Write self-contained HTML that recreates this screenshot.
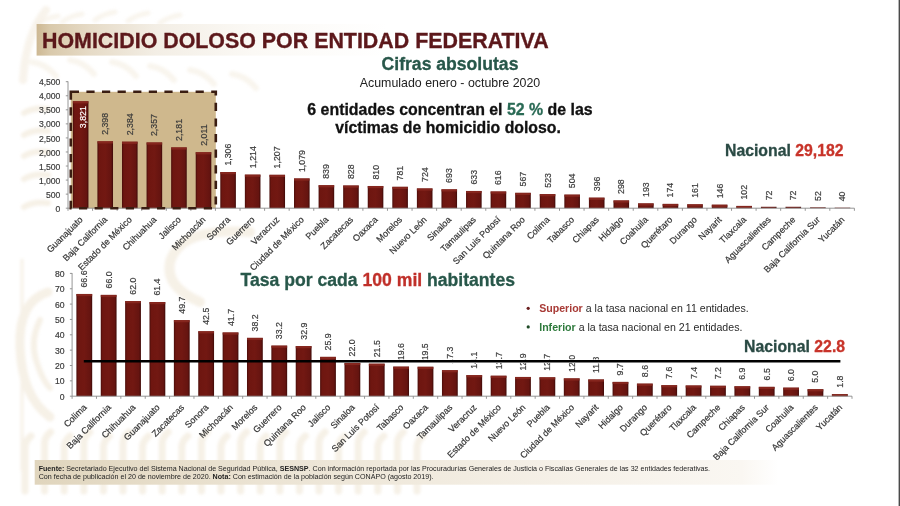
<!DOCTYPE html>
<html><head><meta charset="utf-8"><style>
html,body{margin:0;padding:0;background:#fff;width:900px;height:506px;overflow:hidden}
svg{display:block;font-family:"Liberation Sans",sans-serif;will-change:transform;filter:blur(0.35px)}
.ax{font-size:8.6px;fill:#3c3c3c;stroke:#3c3c3c;stroke-width:0.2px}
.vl{font-size:8.8px;stroke-width:0.2px}
.xl,.vl,.ax{}
.xl{font-size:9.0px;fill:#333;stroke:#333;stroke-width:0.2px}
</style></head><body>
<svg width="900" height="506" viewBox="0 0 900 506">
<defs>
<linearGradient id="bar" x1="0" x2="1" y1="0" y2="0">
<stop offset="0" stop-color="#4a0d0a"/><stop offset="0.12" stop-color="#6e1610"/><stop offset="0.5" stop-color="#721812"/><stop offset="0.88" stop-color="#651410"/><stop offset="1" stop-color="#3e0a08"/>
</linearGradient>
<linearGradient id="tg" x1="0" x2="1" y1="0" y2="0">
<stop offset="0" stop-color="#cdb893"/><stop offset="0.025" stop-color="#d9c9ab"/><stop offset="0.1" stop-color="#e6dbc7"/><stop offset="0.22" stop-color="#f3eee5"/><stop offset="0.4" stop-color="#fbf9f5"/><stop offset="0.65" stop-color="#ffffff"/>
</linearGradient>
<linearGradient id="fg" x1="0" x2="1" y1="0" y2="0">
<stop offset="0" stop-color="#e0d5bd"/><stop offset="0.3" stop-color="#ebe3d3"/><stop offset="0.7" stop-color="#f5f0e7"/><stop offset="0.95" stop-color="#faf7f2"/><stop offset="1" stop-color="#ffffff"/>
</linearGradient>
<filter id="wb" x="-20%" y="-20%" width="140%" height="140%"><feGaussianBlur stdDeviation="1.6"/></filter>
</defs>
<rect width="900" height="506" fill="#fff"/>
<g fill="none" stroke="#efe5d3" stroke-linecap="round" opacity="0.55" filter="url(#wb)"><path d="M25.0 491 V446.0 q1 -6 6 -10" stroke-width="7" /><path d="M44.6 491 V442.0 q1 -6 6 -10" stroke-width="7" /><path d="M64.2 491 V446.0 q1 -6 6 -10" stroke-width="7" /><path d="M83.8 491 V442.0 q1 -6 6 -10" stroke-width="7" /><path d="M103.4 491 V446.0 q1 -6 6 -10" stroke-width="7" /><path d="M123.0 491 V442.0 q1 -6 6 -10" stroke-width="7" /><path d="M142.6 491 V446.0 q1 -6 6 -10" stroke-width="7" /><path d="M162.2 491 V442.0 q1 -6 6 -10" stroke-width="7" /><path d="M181.8 491 V446.0 q1 -6 6 -10" stroke-width="7" /><path d="M201.4 491 V442.0 q1 -6 6 -10" stroke-width="7" /><path d="M221.0 491 V446.0 q1 -6 6 -10" stroke-width="7" /><path d="M240.6 491 V442.0 q1 -6 6 -10" stroke-width="7" /><path d="M260.2 491 V446.0 q1 -6 6 -10" stroke-width="7" /><path d="M279.8 491 V442.0 q1 -6 6 -10" stroke-width="7" /><path d="M299.4 491 V446.0 q1 -6 6 -10" stroke-width="7" /><path d="M319.0 491 V442.0 q1 -6 6 -10" stroke-width="7" /><path d="M338.6 491 V446.0 q1 -6 6 -10" stroke-width="7" /><path d="M358.2 491 V442.0 q1 -6 6 -10" stroke-width="7" /><path d="M377.8 491 V446.0 q1 -6 6 -10" stroke-width="7" /><path d="M397.4 491 V442.0 q1 -6 6 -10" stroke-width="7" /><path d="M417.0 491 V446.0 q1 -6 6 -10" stroke-width="7" /><path d="M24 113 q10 -6 24 -4" stroke-width="6"/><path d="M24 135 q10 -6 24 -4" stroke-width="6"/><path d="M24 156 q10 -6 24 -4" stroke-width="6"/><path d="M24 179 q10 -6 24 -4" stroke-width="6"/><path d="M24 207 q10 -6 24 -4" stroke-width="6"/><path d="M48 292 q-30 10 -28 55 q2 50 30 70" stroke-width="9"/><path d="M40 320 q-10 20 -4 40 q6 20 14 28" stroke-width="6"/><path d="M22 260 V470" stroke-width="3"/><path d="M38 24 q8 -6 20 -8" stroke-width="5" opacity="0.7"/><path d="M62 22 q8 -6 20 -8" stroke-width="5" opacity="0.7"/><path d="M95 20 q8 -6 20 -8" stroke-width="5" opacity="0.7"/><path d="M128 21 q8 -6 20 -8" stroke-width="5" opacity="0.7"/><path d="M160 23 q8 -6 20 -8" stroke-width="5" opacity="0.7"/><path d="M32 62 q14 2 24 14" stroke-width="6" opacity="0.7"/><path d="M70 60 q14 2 24 14" stroke-width="6" opacity="0.7"/><path d="M112 62 q14 2 24 14" stroke-width="6" opacity="0.7"/><path d="M150 66 q14 2 24 14" stroke-width="6" opacity="0.7"/><path d="M190 70 q14 2 24 14" stroke-width="6" opacity="0.7"/><path d="M232 74 q14 2 24 14" stroke-width="6" opacity="0.7"/><path d="M46 10 Q26 34 23 80" stroke-width="8" opacity="0.8"/><path d="M250 232 q-70 -5 -80 30 q-5 25 30 40" stroke-width="10"/></g>
<!-- title -->
<rect x="36.6" y="24" width="540" height="31.6" fill="url(#tg)"/>
<text x="42" y="48.3" font-weight="bold" font-size="21.4px" fill="#5c181b" stroke="#5c181b" stroke-width="0.35">HOMICIDIO DOLOSO POR ENTIDAD FEDERATIVA</text>
<text x="450" y="69.5" text-anchor="middle" font-weight="bold" font-size="17.6px" fill="#28574a" stroke="#28574a" stroke-width="0.3">Cifras absolutas</text>
<text x="450" y="86.5" text-anchor="middle" font-size="12.4px" fill="#222">Acumulado enero - octubre 2020</text>
<!-- highlight box -->
<rect x="70.8" y="91.8" width="145" height="116.4" fill="#cfb88d"/>
<rect x="72.84" y="101.20" width="15.60" height="107.00" fill="url(#bar)"/>
<rect x="72.84" y="101.20" width="15.60" height="2.20" fill="#8c2a22" opacity=".8"/>
<rect x="97.41" y="141.27" width="15.60" height="66.93" fill="url(#bar)"/>
<rect x="97.41" y="141.27" width="15.60" height="2.20" fill="#8c2a22" opacity=".8"/>
<rect x="121.99" y="141.67" width="15.60" height="66.53" fill="url(#bar)"/>
<rect x="121.99" y="141.67" width="15.60" height="2.20" fill="#8c2a22" opacity=".8"/>
<rect x="146.56" y="142.43" width="15.60" height="65.77" fill="url(#bar)"/>
<rect x="146.56" y="142.43" width="15.60" height="2.20" fill="#8c2a22" opacity=".8"/>
<rect x="171.14" y="147.38" width="15.60" height="60.82" fill="url(#bar)"/>
<rect x="171.14" y="147.38" width="15.60" height="2.20" fill="#8c2a22" opacity=".8"/>
<rect x="195.71" y="152.17" width="15.60" height="56.03" fill="url(#bar)"/>
<rect x="195.71" y="152.17" width="15.60" height="2.20" fill="#8c2a22" opacity=".8"/>
<rect x="220.29" y="172.02" width="15.60" height="36.18" fill="url(#bar)"/>
<rect x="220.29" y="172.02" width="15.60" height="2.20" fill="#8c2a22" opacity=".8"/>
<rect x="244.86" y="174.61" width="15.60" height="33.59" fill="url(#bar)"/>
<rect x="244.86" y="174.61" width="15.60" height="2.20" fill="#8c2a22" opacity=".8"/>
<rect x="269.44" y="174.81" width="15.60" height="33.39" fill="url(#bar)"/>
<rect x="269.44" y="174.81" width="15.60" height="2.20" fill="#8c2a22" opacity=".8"/>
<rect x="294.01" y="178.42" width="15.60" height="29.78" fill="url(#bar)"/>
<rect x="294.01" y="178.42" width="15.60" height="2.20" fill="#8c2a22" opacity=".8"/>
<rect x="318.59" y="185.17" width="15.60" height="23.03" fill="url(#bar)"/>
<rect x="318.59" y="185.17" width="15.60" height="2.20" fill="#8c2a22" opacity=".8"/>
<rect x="343.16" y="185.48" width="15.60" height="22.72" fill="url(#bar)"/>
<rect x="343.16" y="185.48" width="15.60" height="2.20" fill="#8c2a22" opacity=".8"/>
<rect x="367.74" y="185.99" width="15.60" height="22.21" fill="url(#bar)"/>
<rect x="367.74" y="185.99" width="15.60" height="2.20" fill="#8c2a22" opacity=".8"/>
<rect x="392.31" y="186.81" width="15.60" height="21.39" fill="url(#bar)"/>
<rect x="392.31" y="186.81" width="15.60" height="2.20" fill="#8c2a22" opacity=".8"/>
<rect x="416.89" y="188.41" width="15.60" height="19.79" fill="url(#bar)"/>
<rect x="416.89" y="188.41" width="15.60" height="2.20" fill="#8c2a22" opacity=".8"/>
<rect x="441.46" y="189.29" width="15.60" height="18.91" fill="url(#bar)"/>
<rect x="441.46" y="189.29" width="15.60" height="2.20" fill="#8c2a22" opacity=".8"/>
<rect x="466.04" y="190.97" width="15.60" height="17.23" fill="url(#bar)"/>
<rect x="466.04" y="190.97" width="15.60" height="2.20" fill="#8c2a22" opacity=".8"/>
<rect x="490.61" y="191.45" width="15.60" height="16.75" fill="url(#bar)"/>
<rect x="490.61" y="191.45" width="15.60" height="2.20" fill="#8c2a22" opacity=".8"/>
<rect x="515.19" y="192.83" width="15.60" height="15.37" fill="url(#bar)"/>
<rect x="515.19" y="192.83" width="15.60" height="2.20" fill="#8c2a22" opacity=".8"/>
<rect x="539.76" y="194.07" width="15.60" height="14.13" fill="url(#bar)"/>
<rect x="539.76" y="194.07" width="15.60" height="2.20" fill="#8c2a22" opacity=".8"/>
<rect x="564.34" y="194.61" width="15.60" height="13.59" fill="url(#bar)"/>
<rect x="564.34" y="194.61" width="15.60" height="2.20" fill="#8c2a22" opacity=".8"/>
<rect x="588.91" y="197.65" width="15.60" height="10.55" fill="url(#bar)"/>
<rect x="588.91" y="197.65" width="15.60" height="2.20" fill="#8c2a22" opacity=".8"/>
<rect x="613.49" y="200.41" width="15.60" height="7.79" fill="url(#bar)"/>
<rect x="613.49" y="200.41" width="15.60" height="2.20" fill="#8c2a22" opacity=".8"/>
<rect x="638.06" y="203.37" width="15.60" height="4.83" fill="url(#bar)"/>
<rect x="638.06" y="203.37" width="15.60" height="2.20" fill="#8c2a22" opacity=".8"/>
<rect x="662.64" y="203.90" width="15.60" height="4.30" fill="url(#bar)"/>
<rect x="662.64" y="203.90" width="15.60" height="2.20" fill="#8c2a22" opacity=".8"/>
<rect x="687.21" y="204.27" width="15.60" height="3.93" fill="url(#bar)"/>
<rect x="687.21" y="204.27" width="15.60" height="2.20" fill="#8c2a22" opacity=".8"/>
<rect x="711.79" y="204.69" width="15.60" height="3.51" fill="url(#bar)"/>
<rect x="711.79" y="204.69" width="15.60" height="2.20" fill="#8c2a22" opacity=".8"/>
<rect x="736.36" y="205.93" width="15.60" height="2.27" fill="url(#bar)"/>
<rect x="736.36" y="205.93" width="15.60" height="2.20" fill="#8c2a22" opacity=".8"/>
<rect x="760.94" y="206.77" width="15.60" height="1.43" fill="url(#bar)"/>
<rect x="785.51" y="206.77" width="15.60" height="1.43" fill="url(#bar)"/>
<rect x="810.09" y="207.34" width="15.60" height="0.86" fill="url(#bar)"/>
<rect x="834.66" y="207.67" width="15.60" height="0.53" fill="url(#bar)"/>
<path d="M68.00 81.40V208.20H854.40" stroke="#8a8a8a" stroke-width="0.9" fill="none"/>
<path d="M65.80 208.20H68.00" stroke="#8a8a8a" stroke-width="0.9"/>
<text x="60.40" y="211.80" text-anchor="end" class="ax">0</text>
<path d="M65.80 194.14H68.00" stroke="#8a8a8a" stroke-width="0.9"/>
<text x="60.40" y="197.74" text-anchor="end" class="ax">500</text>
<path d="M65.80 180.09H68.00" stroke="#8a8a8a" stroke-width="0.9"/>
<text x="60.40" y="183.69" text-anchor="end" class="ax">1,000</text>
<path d="M65.80 166.03H68.00" stroke="#8a8a8a" stroke-width="0.9"/>
<text x="60.40" y="169.63" text-anchor="end" class="ax">1,500</text>
<path d="M65.80 151.98H68.00" stroke="#8a8a8a" stroke-width="0.9"/>
<text x="60.40" y="155.58" text-anchor="end" class="ax">2,000</text>
<path d="M65.80 137.92H68.00" stroke="#8a8a8a" stroke-width="0.9"/>
<text x="60.40" y="141.52" text-anchor="end" class="ax">2,500</text>
<path d="M65.80 123.87H68.00" stroke="#8a8a8a" stroke-width="0.9"/>
<text x="60.40" y="127.47" text-anchor="end" class="ax">3,000</text>
<path d="M65.80 109.81H68.00" stroke="#8a8a8a" stroke-width="0.9"/>
<text x="60.40" y="113.41" text-anchor="end" class="ax">3,500</text>
<path d="M65.80 95.76H68.00" stroke="#8a8a8a" stroke-width="0.9"/>
<text x="60.40" y="99.36" text-anchor="end" class="ax">4,000</text>
<path d="M65.80 81.70H68.00" stroke="#8a8a8a" stroke-width="0.9"/>
<text x="60.40" y="85.30" text-anchor="end" class="ax">4,500</text>
<path d="M68.00 208.20V210.80" stroke="#8a8a8a" stroke-width="0.9"/>
<path d="M92.58 208.20V210.80" stroke="#8a8a8a" stroke-width="0.9"/>
<path d="M117.15 208.20V210.80" stroke="#8a8a8a" stroke-width="0.9"/>
<path d="M141.72 208.20V210.80" stroke="#8a8a8a" stroke-width="0.9"/>
<path d="M166.30 208.20V210.80" stroke="#8a8a8a" stroke-width="0.9"/>
<path d="M190.88 208.20V210.80" stroke="#8a8a8a" stroke-width="0.9"/>
<path d="M215.45 208.20V210.80" stroke="#8a8a8a" stroke-width="0.9"/>
<path d="M240.03 208.20V210.80" stroke="#8a8a8a" stroke-width="0.9"/>
<path d="M264.60 208.20V210.80" stroke="#8a8a8a" stroke-width="0.9"/>
<path d="M289.17 208.20V210.80" stroke="#8a8a8a" stroke-width="0.9"/>
<path d="M313.75 208.20V210.80" stroke="#8a8a8a" stroke-width="0.9"/>
<path d="M338.32 208.20V210.80" stroke="#8a8a8a" stroke-width="0.9"/>
<path d="M362.90 208.20V210.80" stroke="#8a8a8a" stroke-width="0.9"/>
<path d="M387.47 208.20V210.80" stroke="#8a8a8a" stroke-width="0.9"/>
<path d="M412.05 208.20V210.80" stroke="#8a8a8a" stroke-width="0.9"/>
<path d="M436.62 208.20V210.80" stroke="#8a8a8a" stroke-width="0.9"/>
<path d="M461.20 208.20V210.80" stroke="#8a8a8a" stroke-width="0.9"/>
<path d="M485.77 208.20V210.80" stroke="#8a8a8a" stroke-width="0.9"/>
<path d="M510.35 208.20V210.80" stroke="#8a8a8a" stroke-width="0.9"/>
<path d="M534.92 208.20V210.80" stroke="#8a8a8a" stroke-width="0.9"/>
<path d="M559.50 208.20V210.80" stroke="#8a8a8a" stroke-width="0.9"/>
<path d="M584.07 208.20V210.80" stroke="#8a8a8a" stroke-width="0.9"/>
<path d="M608.65 208.20V210.80" stroke="#8a8a8a" stroke-width="0.9"/>
<path d="M633.23 208.20V210.80" stroke="#8a8a8a" stroke-width="0.9"/>
<path d="M657.80 208.20V210.80" stroke="#8a8a8a" stroke-width="0.9"/>
<path d="M682.38 208.20V210.80" stroke="#8a8a8a" stroke-width="0.9"/>
<path d="M706.95 208.20V210.80" stroke="#8a8a8a" stroke-width="0.9"/>
<path d="M731.52 208.20V210.80" stroke="#8a8a8a" stroke-width="0.9"/>
<path d="M756.10 208.20V210.80" stroke="#8a8a8a" stroke-width="0.9"/>
<path d="M780.67 208.20V210.80" stroke="#8a8a8a" stroke-width="0.9"/>
<path d="M805.25 208.20V210.80" stroke="#8a8a8a" stroke-width="0.9"/>
<path d="M829.82 208.20V210.80" stroke="#8a8a8a" stroke-width="0.9"/>
<path d="M854.40 208.20V210.80" stroke="#8a8a8a" stroke-width="0.9"/>
<text transform="translate(85.84,128.20) rotate(-90)" class="vl" fill="#ffffff" stroke="#ffffff">3,821</text>
<text transform="translate(108.21,134.87) rotate(-90)" class="vl" fill="#3a3a3a" stroke="#3a3a3a">2,398</text>
<text transform="translate(132.79,135.27) rotate(-90)" class="vl" fill="#3a3a3a" stroke="#3a3a3a">2,384</text>
<text transform="translate(157.36,136.03) rotate(-90)" class="vl" fill="#3a3a3a" stroke="#3a3a3a">2,357</text>
<text transform="translate(181.94,140.98) rotate(-90)" class="vl" fill="#3a3a3a" stroke="#3a3a3a">2,181</text>
<text transform="translate(206.51,145.77) rotate(-90)" class="vl" fill="#3a3a3a" stroke="#3a3a3a">2,011</text>
<text transform="translate(231.09,165.62) rotate(-90)" class="vl" fill="#3a3a3a" stroke="#3a3a3a">1,306</text>
<text transform="translate(255.66,168.21) rotate(-90)" class="vl" fill="#3a3a3a" stroke="#3a3a3a">1,214</text>
<text transform="translate(280.24,168.41) rotate(-90)" class="vl" fill="#3a3a3a" stroke="#3a3a3a">1,207</text>
<text transform="translate(304.81,172.02) rotate(-90)" class="vl" fill="#3a3a3a" stroke="#3a3a3a">1,079</text>
<text transform="translate(329.39,178.77) rotate(-90)" class="vl" fill="#3a3a3a" stroke="#3a3a3a">839</text>
<text transform="translate(353.96,179.08) rotate(-90)" class="vl" fill="#3a3a3a" stroke="#3a3a3a">828</text>
<text transform="translate(378.54,179.59) rotate(-90)" class="vl" fill="#3a3a3a" stroke="#3a3a3a">810</text>
<text transform="translate(403.11,180.41) rotate(-90)" class="vl" fill="#3a3a3a" stroke="#3a3a3a">781</text>
<text transform="translate(427.69,182.01) rotate(-90)" class="vl" fill="#3a3a3a" stroke="#3a3a3a">724</text>
<text transform="translate(452.26,182.89) rotate(-90)" class="vl" fill="#3a3a3a" stroke="#3a3a3a">693</text>
<text transform="translate(476.84,184.57) rotate(-90)" class="vl" fill="#3a3a3a" stroke="#3a3a3a">633</text>
<text transform="translate(501.41,185.05) rotate(-90)" class="vl" fill="#3a3a3a" stroke="#3a3a3a">616</text>
<text transform="translate(525.99,186.43) rotate(-90)" class="vl" fill="#3a3a3a" stroke="#3a3a3a">567</text>
<text transform="translate(550.56,187.67) rotate(-90)" class="vl" fill="#3a3a3a" stroke="#3a3a3a">523</text>
<text transform="translate(575.14,188.21) rotate(-90)" class="vl" fill="#3a3a3a" stroke="#3a3a3a">504</text>
<text transform="translate(599.71,191.25) rotate(-90)" class="vl" fill="#3a3a3a" stroke="#3a3a3a">396</text>
<text transform="translate(624.29,194.01) rotate(-90)" class="vl" fill="#3a3a3a" stroke="#3a3a3a">298</text>
<text transform="translate(648.86,196.97) rotate(-90)" class="vl" fill="#3a3a3a" stroke="#3a3a3a">193</text>
<text transform="translate(673.44,197.50) rotate(-90)" class="vl" fill="#3a3a3a" stroke="#3a3a3a">174</text>
<text transform="translate(698.01,197.87) rotate(-90)" class="vl" fill="#3a3a3a" stroke="#3a3a3a">161</text>
<text transform="translate(722.59,198.29) rotate(-90)" class="vl" fill="#3a3a3a" stroke="#3a3a3a">146</text>
<text transform="translate(747.16,199.53) rotate(-90)" class="vl" fill="#3a3a3a" stroke="#3a3a3a">102</text>
<text transform="translate(771.74,200.37) rotate(-90)" class="vl" fill="#3a3a3a" stroke="#3a3a3a">72</text>
<text transform="translate(796.31,200.37) rotate(-90)" class="vl" fill="#3a3a3a" stroke="#3a3a3a">72</text>
<text transform="translate(820.89,200.94) rotate(-90)" class="vl" fill="#3a3a3a" stroke="#3a3a3a">52</text>
<text transform="translate(845.46,201.27) rotate(-90)" class="vl" fill="#3a3a3a" stroke="#3a3a3a">40</text>
<text transform="translate(83.29,220.30) rotate(-45)" text-anchor="end" class="xl">Guanajuato</text>
<text transform="translate(107.86,220.30) rotate(-45)" text-anchor="end" class="xl">Baja California</text>
<text transform="translate(132.44,220.30) rotate(-45)" text-anchor="end" class="xl">Estado de México</text>
<text transform="translate(157.01,220.30) rotate(-45)" text-anchor="end" class="xl">Chihuahua</text>
<text transform="translate(181.59,220.30) rotate(-45)" text-anchor="end" class="xl">Jalisco</text>
<text transform="translate(206.16,220.30) rotate(-45)" text-anchor="end" class="xl">Michoacán</text>
<text transform="translate(230.74,220.30) rotate(-45)" text-anchor="end" class="xl">Sonora</text>
<text transform="translate(255.31,220.30) rotate(-45)" text-anchor="end" class="xl">Guerrero</text>
<text transform="translate(279.89,220.30) rotate(-45)" text-anchor="end" class="xl">Veracruz</text>
<text transform="translate(304.46,220.30) rotate(-45)" text-anchor="end" class="xl">Ciudad de México</text>
<text transform="translate(329.04,220.30) rotate(-45)" text-anchor="end" class="xl">Puebla</text>
<text transform="translate(353.61,220.30) rotate(-45)" text-anchor="end" class="xl">Zacatecas</text>
<text transform="translate(378.19,220.30) rotate(-45)" text-anchor="end" class="xl">Oaxaca</text>
<text transform="translate(402.76,220.30) rotate(-45)" text-anchor="end" class="xl">Morelos</text>
<text transform="translate(427.34,220.30) rotate(-45)" text-anchor="end" class="xl">Nuevo León</text>
<text transform="translate(451.91,220.30) rotate(-45)" text-anchor="end" class="xl">Sinaloa</text>
<text transform="translate(476.49,220.30) rotate(-45)" text-anchor="end" class="xl">Tamaulipas</text>
<text transform="translate(501.06,220.30) rotate(-45)" text-anchor="end" class="xl">San Luis Potosí</text>
<text transform="translate(525.64,220.30) rotate(-45)" text-anchor="end" class="xl">Quintana Roo</text>
<text transform="translate(550.21,220.30) rotate(-45)" text-anchor="end" class="xl">Colima</text>
<text transform="translate(574.79,220.30) rotate(-45)" text-anchor="end" class="xl">Tabasco</text>
<text transform="translate(599.36,220.30) rotate(-45)" text-anchor="end" class="xl">Chiapas</text>
<text transform="translate(623.94,220.30) rotate(-45)" text-anchor="end" class="xl">Hidalgo</text>
<text transform="translate(648.51,220.30) rotate(-45)" text-anchor="end" class="xl">Coahuila</text>
<text transform="translate(673.09,220.30) rotate(-45)" text-anchor="end" class="xl">Querétaro</text>
<text transform="translate(697.66,220.30) rotate(-45)" text-anchor="end" class="xl">Durango</text>
<text transform="translate(722.24,220.30) rotate(-45)" text-anchor="end" class="xl">Nayarit</text>
<text transform="translate(746.81,220.30) rotate(-45)" text-anchor="end" class="xl">Tlaxcala</text>
<text transform="translate(771.39,220.30) rotate(-45)" text-anchor="end" class="xl">Aguascalientes</text>
<text transform="translate(795.96,220.30) rotate(-45)" text-anchor="end" class="xl">Campeche</text>
<text transform="translate(820.54,220.30) rotate(-45)" text-anchor="end" class="xl">Baja California Sur</text>
<text transform="translate(845.11,220.30) rotate(-45)" text-anchor="end" class="xl">Yucatán</text>
<path d="M70.8 91.8H215.8V208.2H70.8Z" fill="none" stroke="#3a1d12" stroke-width="2.6" stroke-dasharray="8.2 7.4"/>
<text x="450" y="114.6" text-anchor="middle" font-weight="bold" font-size="15.9px" fill="#111" stroke="#111" stroke-width="0.3">6 entidades concentran el <tspan fill="#2a6a55" stroke="#2a6a55">52 %</tspan> de las</text>
<text x="448" y="132.9" text-anchor="middle" font-weight="bold" font-size="15.8px" fill="#111" stroke="#111" stroke-width="0.3">víctimas de homicidio doloso.</text>
<text x="725" y="156" font-weight="bold" font-size="15.8px" fill="#2a4a44" stroke="#2a4a44" stroke-width="0.3">Nacional <tspan fill="#c8342a" stroke="#c8342a">29,182</tspan></text>
<!-- bottom -->
<text x="240.6" y="285.6" font-weight="bold" font-size="17.6px" fill="#28574a" stroke="#28574a" stroke-width="0.3">Tasa por cada <tspan fill="#c0302a" stroke="#c0302a">100 mil</tspan> habitantes</text>
<rect x="76.39" y="293.97" width="15.80" height="102.23" fill="url(#bar)"/>
<rect x="76.39" y="293.97" width="15.80" height="2.20" fill="#8c2a22" opacity=".8"/>
<rect x="100.76" y="294.90" width="15.80" height="101.30" fill="url(#bar)"/>
<rect x="100.76" y="294.90" width="15.80" height="2.20" fill="#8c2a22" opacity=".8"/>
<rect x="125.13" y="301.08" width="15.80" height="95.12" fill="url(#bar)"/>
<rect x="125.13" y="301.08" width="15.80" height="2.20" fill="#8c2a22" opacity=".8"/>
<rect x="149.50" y="302.01" width="15.80" height="94.19" fill="url(#bar)"/>
<rect x="149.50" y="302.01" width="15.80" height="2.20" fill="#8c2a22" opacity=".8"/>
<rect x="173.87" y="320.09" width="15.80" height="76.11" fill="url(#bar)"/>
<rect x="173.87" y="320.09" width="15.80" height="2.20" fill="#8c2a22" opacity=".8"/>
<rect x="198.25" y="331.22" width="15.80" height="64.98" fill="url(#bar)"/>
<rect x="198.25" y="331.22" width="15.80" height="2.20" fill="#8c2a22" opacity=".8"/>
<rect x="222.62" y="332.45" width="15.80" height="63.75" fill="url(#bar)"/>
<rect x="222.62" y="332.45" width="15.80" height="2.20" fill="#8c2a22" opacity=".8"/>
<rect x="246.99" y="337.86" width="15.80" height="58.34" fill="url(#bar)"/>
<rect x="246.99" y="337.86" width="15.80" height="2.20" fill="#8c2a22" opacity=".8"/>
<rect x="271.36" y="345.59" width="15.80" height="50.61" fill="url(#bar)"/>
<rect x="271.36" y="345.59" width="15.80" height="2.20" fill="#8c2a22" opacity=".8"/>
<rect x="295.73" y="346.05" width="15.80" height="50.15" fill="url(#bar)"/>
<rect x="295.73" y="346.05" width="15.80" height="2.20" fill="#8c2a22" opacity=".8"/>
<rect x="320.10" y="356.87" width="15.80" height="39.33" fill="url(#bar)"/>
<rect x="320.10" y="356.87" width="15.80" height="2.20" fill="#8c2a22" opacity=".8"/>
<rect x="344.48" y="362.90" width="15.80" height="33.30" fill="url(#bar)"/>
<rect x="344.48" y="362.90" width="15.80" height="2.20" fill="#8c2a22" opacity=".8"/>
<rect x="368.85" y="363.67" width="15.80" height="32.53" fill="url(#bar)"/>
<rect x="368.85" y="363.67" width="15.80" height="2.20" fill="#8c2a22" opacity=".8"/>
<rect x="393.22" y="366.61" width="15.80" height="29.59" fill="url(#bar)"/>
<rect x="393.22" y="366.61" width="15.80" height="2.20" fill="#8c2a22" opacity=".8"/>
<rect x="417.59" y="366.76" width="15.80" height="29.44" fill="url(#bar)"/>
<rect x="417.59" y="366.76" width="15.80" height="2.20" fill="#8c2a22" opacity=".8"/>
<rect x="441.96" y="370.16" width="15.80" height="26.04" fill="url(#bar)"/>
<rect x="441.96" y="370.16" width="15.80" height="2.20" fill="#8c2a22" opacity=".8"/>
<rect x="466.34" y="375.11" width="15.80" height="21.09" fill="url(#bar)"/>
<rect x="466.34" y="375.11" width="15.80" height="2.20" fill="#8c2a22" opacity=".8"/>
<rect x="490.71" y="375.73" width="15.80" height="20.47" fill="url(#bar)"/>
<rect x="490.71" y="375.73" width="15.80" height="2.20" fill="#8c2a22" opacity=".8"/>
<rect x="515.08" y="376.96" width="15.80" height="19.24" fill="url(#bar)"/>
<rect x="515.08" y="376.96" width="15.80" height="2.20" fill="#8c2a22" opacity=".8"/>
<rect x="539.45" y="377.27" width="15.80" height="18.93" fill="url(#bar)"/>
<rect x="539.45" y="377.27" width="15.80" height="2.20" fill="#8c2a22" opacity=".8"/>
<rect x="563.82" y="378.35" width="15.80" height="17.85" fill="url(#bar)"/>
<rect x="563.82" y="378.35" width="15.80" height="2.20" fill="#8c2a22" opacity=".8"/>
<rect x="588.20" y="379.44" width="15.80" height="16.76" fill="url(#bar)"/>
<rect x="588.20" y="379.44" width="15.80" height="2.20" fill="#8c2a22" opacity=".8"/>
<rect x="612.57" y="381.91" width="15.80" height="14.29" fill="url(#bar)"/>
<rect x="612.57" y="381.91" width="15.80" height="2.20" fill="#8c2a22" opacity=".8"/>
<rect x="636.94" y="383.61" width="15.80" height="12.59" fill="url(#bar)"/>
<rect x="636.94" y="383.61" width="15.80" height="2.20" fill="#8c2a22" opacity=".8"/>
<rect x="661.31" y="385.15" width="15.80" height="11.05" fill="url(#bar)"/>
<rect x="661.31" y="385.15" width="15.80" height="2.20" fill="#8c2a22" opacity=".8"/>
<rect x="685.68" y="385.46" width="15.80" height="10.74" fill="url(#bar)"/>
<rect x="685.68" y="385.46" width="15.80" height="2.20" fill="#8c2a22" opacity=".8"/>
<rect x="710.05" y="385.77" width="15.80" height="10.43" fill="url(#bar)"/>
<rect x="710.05" y="385.77" width="15.80" height="2.20" fill="#8c2a22" opacity=".8"/>
<rect x="734.43" y="386.24" width="15.80" height="9.96" fill="url(#bar)"/>
<rect x="734.43" y="386.24" width="15.80" height="2.20" fill="#8c2a22" opacity=".8"/>
<rect x="758.80" y="386.85" width="15.80" height="9.35" fill="url(#bar)"/>
<rect x="758.80" y="386.85" width="15.80" height="2.20" fill="#8c2a22" opacity=".8"/>
<rect x="783.17" y="387.63" width="15.80" height="8.57" fill="url(#bar)"/>
<rect x="783.17" y="387.63" width="15.80" height="2.20" fill="#8c2a22" opacity=".8"/>
<rect x="807.54" y="389.17" width="15.80" height="7.03" fill="url(#bar)"/>
<rect x="807.54" y="389.17" width="15.80" height="2.20" fill="#8c2a22" opacity=".8"/>
<rect x="831.91" y="394.12" width="15.80" height="2.08" fill="url(#bar)"/>
<rect x="831.91" y="394.12" width="15.80" height="2.08" fill="#8c2a22" opacity=".8"/>
<path d="M72.10 273.10V396.20H852.00" stroke="#8a8a8a" stroke-width="0.9" fill="none"/>
<path d="M69.90 396.20H72.10" stroke="#8a8a8a" stroke-width="0.9"/>
<text x="64.50" y="399.80" text-anchor="end" class="ax">0</text>
<path d="M69.90 380.85H72.10" stroke="#8a8a8a" stroke-width="0.9"/>
<text x="64.50" y="384.45" text-anchor="end" class="ax">10</text>
<path d="M69.90 365.50H72.10" stroke="#8a8a8a" stroke-width="0.9"/>
<text x="64.50" y="369.10" text-anchor="end" class="ax">20</text>
<path d="M69.90 350.15H72.10" stroke="#8a8a8a" stroke-width="0.9"/>
<text x="64.50" y="353.75" text-anchor="end" class="ax">30</text>
<path d="M69.90 334.80H72.10" stroke="#8a8a8a" stroke-width="0.9"/>
<text x="64.50" y="338.40" text-anchor="end" class="ax">40</text>
<path d="M69.90 319.45H72.10" stroke="#8a8a8a" stroke-width="0.9"/>
<text x="64.50" y="323.05" text-anchor="end" class="ax">50</text>
<path d="M69.90 304.10H72.10" stroke="#8a8a8a" stroke-width="0.9"/>
<text x="64.50" y="307.70" text-anchor="end" class="ax">60</text>
<path d="M69.90 288.75H72.10" stroke="#8a8a8a" stroke-width="0.9"/>
<text x="64.50" y="292.35" text-anchor="end" class="ax">70</text>
<path d="M69.90 273.40H72.10" stroke="#8a8a8a" stroke-width="0.9"/>
<text x="64.50" y="277.00" text-anchor="end" class="ax">80</text>
<path d="M72.10 396.20V398.80" stroke="#8a8a8a" stroke-width="0.9"/>
<path d="M96.47 396.20V398.80" stroke="#8a8a8a" stroke-width="0.9"/>
<path d="M120.84 396.20V398.80" stroke="#8a8a8a" stroke-width="0.9"/>
<path d="M145.22 396.20V398.80" stroke="#8a8a8a" stroke-width="0.9"/>
<path d="M169.59 396.20V398.80" stroke="#8a8a8a" stroke-width="0.9"/>
<path d="M193.96 396.20V398.80" stroke="#8a8a8a" stroke-width="0.9"/>
<path d="M218.33 396.20V398.80" stroke="#8a8a8a" stroke-width="0.9"/>
<path d="M242.70 396.20V398.80" stroke="#8a8a8a" stroke-width="0.9"/>
<path d="M267.07 396.20V398.80" stroke="#8a8a8a" stroke-width="0.9"/>
<path d="M291.45 396.20V398.80" stroke="#8a8a8a" stroke-width="0.9"/>
<path d="M315.82 396.20V398.80" stroke="#8a8a8a" stroke-width="0.9"/>
<path d="M340.19 396.20V398.80" stroke="#8a8a8a" stroke-width="0.9"/>
<path d="M364.56 396.20V398.80" stroke="#8a8a8a" stroke-width="0.9"/>
<path d="M388.93 396.20V398.80" stroke="#8a8a8a" stroke-width="0.9"/>
<path d="M413.31 396.20V398.80" stroke="#8a8a8a" stroke-width="0.9"/>
<path d="M437.68 396.20V398.80" stroke="#8a8a8a" stroke-width="0.9"/>
<path d="M462.05 396.20V398.80" stroke="#8a8a8a" stroke-width="0.9"/>
<path d="M486.42 396.20V398.80" stroke="#8a8a8a" stroke-width="0.9"/>
<path d="M510.79 396.20V398.80" stroke="#8a8a8a" stroke-width="0.9"/>
<path d="M535.17 396.20V398.80" stroke="#8a8a8a" stroke-width="0.9"/>
<path d="M559.54 396.20V398.80" stroke="#8a8a8a" stroke-width="0.9"/>
<path d="M583.91 396.20V398.80" stroke="#8a8a8a" stroke-width="0.9"/>
<path d="M608.28 396.20V398.80" stroke="#8a8a8a" stroke-width="0.9"/>
<path d="M632.65 396.20V398.80" stroke="#8a8a8a" stroke-width="0.9"/>
<path d="M657.02 396.20V398.80" stroke="#8a8a8a" stroke-width="0.9"/>
<path d="M681.40 396.20V398.80" stroke="#8a8a8a" stroke-width="0.9"/>
<path d="M705.77 396.20V398.80" stroke="#8a8a8a" stroke-width="0.9"/>
<path d="M730.14 396.20V398.80" stroke="#8a8a8a" stroke-width="0.9"/>
<path d="M754.51 396.20V398.80" stroke="#8a8a8a" stroke-width="0.9"/>
<path d="M778.88 396.20V398.80" stroke="#8a8a8a" stroke-width="0.9"/>
<path d="M803.26 396.20V398.80" stroke="#8a8a8a" stroke-width="0.9"/>
<path d="M827.63 396.20V398.80" stroke="#8a8a8a" stroke-width="0.9"/>
<path d="M852.00 396.20V398.80" stroke="#8a8a8a" stroke-width="0.9"/>
<text transform="translate(87.29,287.57) rotate(-90)" class="vl" fill="#3a3a3a" stroke="#3a3a3a">66.6</text>
<text transform="translate(111.66,288.50) rotate(-90)" class="vl" fill="#3a3a3a" stroke="#3a3a3a">66.0</text>
<text transform="translate(136.03,294.68) rotate(-90)" class="vl" fill="#3a3a3a" stroke="#3a3a3a">62.0</text>
<text transform="translate(160.40,295.61) rotate(-90)" class="vl" fill="#3a3a3a" stroke="#3a3a3a">61.4</text>
<text transform="translate(184.77,313.69) rotate(-90)" class="vl" fill="#3a3a3a" stroke="#3a3a3a">49.7</text>
<text transform="translate(209.15,324.82) rotate(-90)" class="vl" fill="#3a3a3a" stroke="#3a3a3a">42.5</text>
<text transform="translate(233.52,326.05) rotate(-90)" class="vl" fill="#3a3a3a" stroke="#3a3a3a">41.7</text>
<text transform="translate(257.89,331.46) rotate(-90)" class="vl" fill="#3a3a3a" stroke="#3a3a3a">38.2</text>
<text transform="translate(282.26,339.19) rotate(-90)" class="vl" fill="#3a3a3a" stroke="#3a3a3a">33.2</text>
<text transform="translate(306.63,339.65) rotate(-90)" class="vl" fill="#3a3a3a" stroke="#3a3a3a">32.9</text>
<text transform="translate(331.00,350.47) rotate(-90)" class="vl" fill="#3a3a3a" stroke="#3a3a3a">25.9</text>
<text transform="translate(355.38,356.50) rotate(-90)" class="vl" fill="#3a3a3a" stroke="#3a3a3a">22.0</text>
<text transform="translate(379.75,357.27) rotate(-90)" class="vl" fill="#3a3a3a" stroke="#3a3a3a">21.5</text>
<text transform="translate(404.12,360.21) rotate(-90)" class="vl" fill="#3a3a3a" stroke="#3a3a3a">19.6</text>
<text transform="translate(428.49,360.36) rotate(-90)" class="vl" fill="#3a3a3a" stroke="#3a3a3a">19.5</text>
<text transform="translate(452.86,363.76) rotate(-90)" class="vl" fill="#3a3a3a" stroke="#3a3a3a">17.3</text>
<text transform="translate(477.24,368.71) rotate(-90)" class="vl" fill="#3a3a3a" stroke="#3a3a3a">14.1</text>
<text transform="translate(501.61,369.33) rotate(-90)" class="vl" fill="#3a3a3a" stroke="#3a3a3a">13.7</text>
<text transform="translate(525.98,370.56) rotate(-90)" class="vl" fill="#3a3a3a" stroke="#3a3a3a">12.9</text>
<text transform="translate(550.35,370.87) rotate(-90)" class="vl" fill="#3a3a3a" stroke="#3a3a3a">12.7</text>
<text transform="translate(574.72,371.95) rotate(-90)" class="vl" fill="#3a3a3a" stroke="#3a3a3a">12.0</text>
<text transform="translate(599.10,373.04) rotate(-90)" class="vl" fill="#3a3a3a" stroke="#3a3a3a">11.3</text>
<text transform="translate(623.47,375.51) rotate(-90)" class="vl" fill="#3a3a3a" stroke="#3a3a3a">9.7</text>
<text transform="translate(647.84,377.21) rotate(-90)" class="vl" fill="#3a3a3a" stroke="#3a3a3a">8.6</text>
<text transform="translate(672.21,378.75) rotate(-90)" class="vl" fill="#3a3a3a" stroke="#3a3a3a">7.6</text>
<text transform="translate(696.58,379.06) rotate(-90)" class="vl" fill="#3a3a3a" stroke="#3a3a3a">7.4</text>
<text transform="translate(720.95,379.37) rotate(-90)" class="vl" fill="#3a3a3a" stroke="#3a3a3a">7.2</text>
<text transform="translate(745.33,379.84) rotate(-90)" class="vl" fill="#3a3a3a" stroke="#3a3a3a">6.9</text>
<text transform="translate(769.70,380.45) rotate(-90)" class="vl" fill="#3a3a3a" stroke="#3a3a3a">6.5</text>
<text transform="translate(794.07,381.23) rotate(-90)" class="vl" fill="#3a3a3a" stroke="#3a3a3a">6.0</text>
<text transform="translate(818.44,382.77) rotate(-90)" class="vl" fill="#3a3a3a" stroke="#3a3a3a">5.0</text>
<text transform="translate(842.81,387.72) rotate(-90)" class="vl" fill="#3a3a3a" stroke="#3a3a3a">1.8</text>
<text transform="translate(87.29,408.00) rotate(-45)" text-anchor="end" class="xl">Colima</text>
<text transform="translate(111.66,408.00) rotate(-45)" text-anchor="end" class="xl">Baja California</text>
<text transform="translate(136.03,408.00) rotate(-45)" text-anchor="end" class="xl">Chihuahua</text>
<text transform="translate(160.40,408.00) rotate(-45)" text-anchor="end" class="xl">Guanajuato</text>
<text transform="translate(184.77,408.00) rotate(-45)" text-anchor="end" class="xl">Zacatecas</text>
<text transform="translate(209.15,408.00) rotate(-45)" text-anchor="end" class="xl">Sonora</text>
<text transform="translate(233.52,408.00) rotate(-45)" text-anchor="end" class="xl">Michoacán</text>
<text transform="translate(257.89,408.00) rotate(-45)" text-anchor="end" class="xl">Morelos</text>
<text transform="translate(282.26,408.00) rotate(-45)" text-anchor="end" class="xl">Guerrero</text>
<text transform="translate(306.63,408.00) rotate(-45)" text-anchor="end" class="xl">Quintana Roo</text>
<text transform="translate(331.00,408.00) rotate(-45)" text-anchor="end" class="xl">Jalisco</text>
<text transform="translate(355.38,408.00) rotate(-45)" text-anchor="end" class="xl">Sinaloa</text>
<text transform="translate(379.75,408.00) rotate(-45)" text-anchor="end" class="xl">San Luis Potosí</text>
<text transform="translate(404.12,408.00) rotate(-45)" text-anchor="end" class="xl">Tabasco</text>
<text transform="translate(428.49,408.00) rotate(-45)" text-anchor="end" class="xl">Oaxaca</text>
<text transform="translate(452.86,408.00) rotate(-45)" text-anchor="end" class="xl">Tamaulipas</text>
<text transform="translate(477.24,408.00) rotate(-45)" text-anchor="end" class="xl">Veracruz</text>
<text transform="translate(501.61,408.00) rotate(-45)" text-anchor="end" class="xl">Estado de México</text>
<text transform="translate(525.98,408.00) rotate(-45)" text-anchor="end" class="xl">Nuevo León</text>
<text transform="translate(550.35,408.00) rotate(-45)" text-anchor="end" class="xl">Puebla</text>
<text transform="translate(574.72,408.00) rotate(-45)" text-anchor="end" class="xl">Ciudad de México</text>
<text transform="translate(599.10,408.00) rotate(-45)" text-anchor="end" class="xl">Nayarit</text>
<text transform="translate(623.47,408.00) rotate(-45)" text-anchor="end" class="xl">Hidalgo</text>
<text transform="translate(647.84,408.00) rotate(-45)" text-anchor="end" class="xl">Durango</text>
<text transform="translate(672.21,408.00) rotate(-45)" text-anchor="end" class="xl">Querétaro</text>
<text transform="translate(696.58,408.00) rotate(-45)" text-anchor="end" class="xl">Tlaxcala</text>
<text transform="translate(720.95,408.00) rotate(-45)" text-anchor="end" class="xl">Campeche</text>
<text transform="translate(745.33,408.00) rotate(-45)" text-anchor="end" class="xl">Chiapas</text>
<text transform="translate(769.70,408.00) rotate(-45)" text-anchor="end" class="xl">Baja California Sur</text>
<text transform="translate(794.07,408.00) rotate(-45)" text-anchor="end" class="xl">Coahuila</text>
<text transform="translate(818.44,408.00) rotate(-45)" text-anchor="end" class="xl">Aguascalientes</text>
<text transform="translate(842.81,408.00) rotate(-45)" text-anchor="end" class="xl">Yucatán</text>
<rect x="388.9" y="359.4" width="451.5" height="3.7" fill="#fff"/>
<path d="M83.8 361.2H840.4" stroke="#000" stroke-width="2.6"/>
<circle cx="528.2" cy="308.3" r="1.6" fill="#6a1e1e"/>
<text x="539.2" y="311.7" font-size="10.6px" fill="#2a2a2a"><tspan font-weight="bold" fill="#a83a36">Superior</tspan> a la tasa nacional en 11 entidades.</text>
<circle cx="528.2" cy="326.9" r="1.6" fill="#1e4a26"/>
<text x="539.2" y="330.6" font-size="10.6px" fill="#2a2a2a"><tspan font-weight="bold" fill="#2e7a3c">Inferior</tspan> a la tasa nacional en 21 entidades.</text>
<text x="744.1" y="352.2" font-weight="bold" font-size="15.8px" fill="#2a4a44" stroke="#2a4a44" stroke-width="0.3">Nacional <tspan fill="#c8342a" stroke="#c8342a">22.8</tspan></text>
<!-- footer -->
<rect x="34.7" y="460" width="744" height="24.7" fill="url(#fg)"/>
<text x="38.7" y="470.7" font-size="7.12px" fill="#222"><tspan font-weight="bold">Fuente:</tspan> Secretariado Ejecutivo del Sistema Nacional de Seguridad Pública, <tspan font-weight="bold">SESNSP</tspan>. Con información reportada por las Procuradurías Generales de Justicia o Fiscalías Generales de las 32 entidades federativas.</text>
<text x="38.7" y="478.7" font-size="7.12px" fill="#222">Con fecha de publicación el 20 de noviembre de 2020. <tspan font-weight="bold">Nota:</tspan> Con estimación de la población según CONAPO (agosto 2019).</text>
<rect x="898.6" y="0" width="1.4" height="506" fill="#4a4a4a"/>
</svg>
</body></html>
